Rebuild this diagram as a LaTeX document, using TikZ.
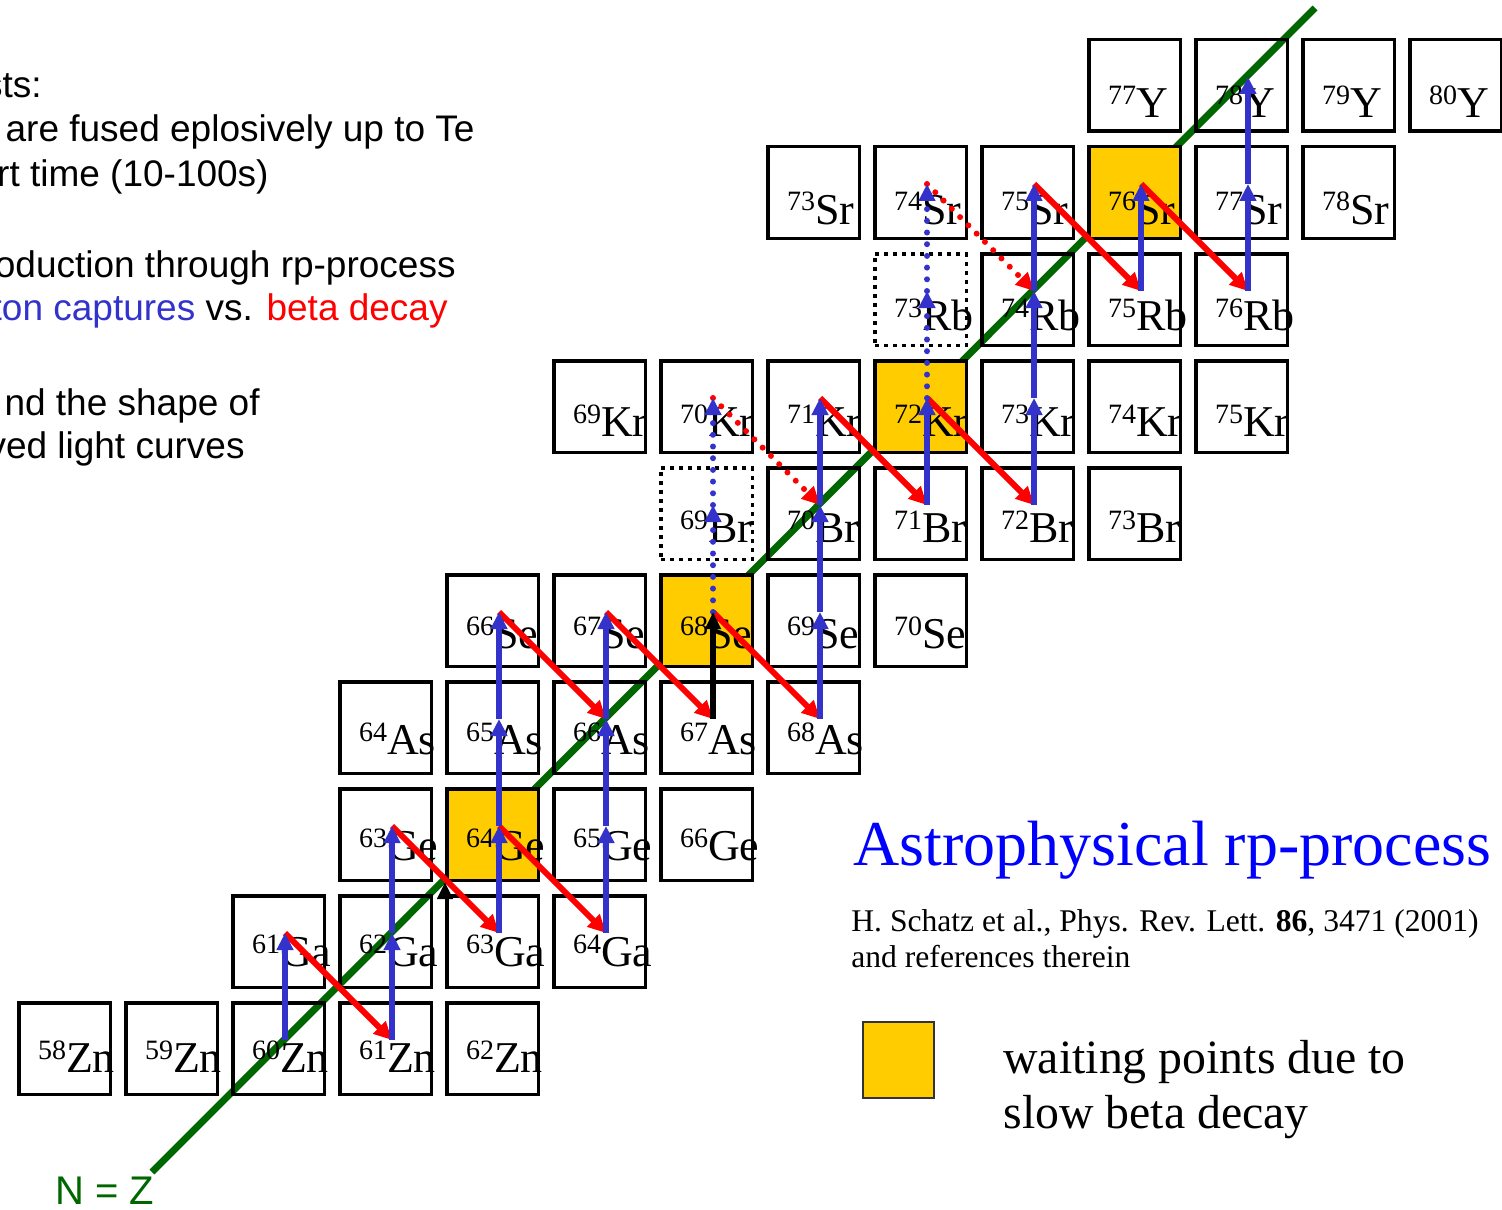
\documentclass[tikz,border=0pt]{standalone}
\usepackage{fontspec}
\setmainfont{Liberation Serif}
\newfontfamily\arialfont{Liberation Sans}
\usetikzlibrary{arrows.meta,calc}
\definecolor{capblue}{RGB}{51,51,204}
\definecolor{decred}{RGB}{255,0,0}
\definecolor{nzgreen}{RGB}{0,102,0}
\definecolor{waityellow}{RGB}{255,204,0}
\tikzset{
  nuc/.style={draw=black, line width=1.75pt, minimum size=45.75pt, inner sep=0pt,
    text width=26.5pt, align=left, text height=23.5pt, text depth=0pt,
    font=\fontsize{22}{24}\selectfont},
  boxGe64/.style={fill=waityellow},
  boxSe68/.style={fill=waityellow},
  boxKr72/.style={fill=waityellow},
  boxSr76/.style={fill=waityellow},
  boxBr69/.style={dash pattern=on 2pt off 2.5pt},
  boxRb73/.style={dash pattern=on 2pt off 2.5pt},
  pcap/.style={draw=capblue, line width=3pt, -{Triangle[length=8.5pt,width=8pt]}},
  bdec/.style={draw=decred, line width=3pt, -{Triangle[length=9pt,width=8.5pt]}},
  blk/.style={draw=black, line width=3pt, -{Triangle[length=8.5pt,width=7.5pt]}},
  dotted arrow/.style={line cap=round, dash pattern=on 0pt off 5.85pt},
  nzline/.style={draw=nzgreen, line width=3.5pt},
  slide/.style={anchor=base east, inner sep=0pt, font=\arialfont\fontsize{18.5}{22}\selectfont},
  serif/.style={anchor=base west, inner sep=0pt},
  keybox/.style={draw=black!80, line width=1pt, fill=waityellow, minimum width=35.5pt,
    minimum height=38pt, inner sep=0pt}
}
\newcommand{\iso}[2]{\raisebox{6.5pt}{\fontsize{14}{15}\selectfont #1}#2}
\begin{document}
\begin{tikzpicture}[x=0.5pt, y=-0.5pt]
  \useasboundingbox (0,0) rectangle (1502,1209);
  \clip (0,0) rectangle (1502,1209);
  % N = Z line
  \coordinate (nz-low) at (152,1172);
  \coordinate (nz-high) at (1315,8);
  \draw[nzline] (nz-low) -- (nz-high);
  \node[anchor=base west, inner sep=0pt, text=nzgreen, font=\arialfont\fontsize{20}{22}\selectfont] (nzlab) at (55,1204) {N = Z};
  % chart of nuclides, one row per element
  \foreach \el/\z/\amin/\amax [evaluate=\z as \th using 23.5+\z-30] in {Zn/30/58/62,
      Ga/31/61/64, Ge/32/63/66, As/33/64/68, Se/34/66/70, Br/35/69/73, Kr/36/69/75,
      Rb/37/73/76, Sr/38/73/78, Y/39/77/80}
    \foreach \a in {\amin,...,\amax} {
      \node[nuc, text height=\th pt, box\el\a/.try] (b-\el\a) at ({64.5+107*(\a-\z-28)},{1048.5-107*(\z-30)}) {\iso{\a}{\el}};
      \coordinate (\el\a) at ({71+107*(\a-\z-28)},{1040-107*(\z-30)});
    }
  % beta decays
  \foreach \from/\to in {Ga61/Zn61, Ge63/Ga63, Ge64/Ga64, Se66/As66, Se67/As67, Se68/As68,
      Kr71/Br71, Kr72/Br72, Sr75/Rb75, Sr76/Rb76}
    \draw[bdec] (\from) -- (\to);
  \draw[bdec, dotted arrow] (Kr70) -- (Br70);
  \draw[bdec, dotted arrow] (Sr74) -- (Rb74);
  % proton captures
  \foreach \from/\to in {Zn60/Ga61, Zn61/Ga62, Ga62/Ge63, Ga63/Ge64, Ge64/As65, As65/Se66,
      Ga64/Ge65, Ge65/As66, As66/Se67, As68/Se69, Se69/Br70, Br70/Kr71, Br71/Kr72,
      Br72/Kr73, Kr73/Rb74, Rb74/Sr75, Rb75/Sr76, Rb76/Sr77, Sr77/Y78}
    \draw[pcap] (\from) -- (\to);
  \foreach \from/\to in {Se68/Br69, Br69/Kr70, Kr72/Rb73, Rb73/Sr74}
    \draw[pcap, dotted arrow] (\from) -- (\to);
  \draw[blk] (As67) -- (Se68);
  \draw[blk] (b-Ga63.north west) -- (b-Ge64.south west);
  % slide text, cut at the left edge
  \node[slide] (l1) at (42,98) {sts:};
  \node[slide] (l2) at (475,142) {are fused eplosively up to Te};
  \node[slide] (l3) at (269,187) {rt time (10-100s)};
  \node[slide] (l4) at (456,277) {oduction through rp-process};
  \node[slide] (l5) at (448,320) {{\color{capblue}ton captures} vs. {\color{decred}beta decay}};
  \node[slide] (l6) at (260,415) {nd the shape of};
  \node[slide] (l7) at (245,458) {ved light curves};
  % title and reference
  \node[serif, text=blue, font=\fontsize{32}{36}\selectfont] (title) at (853,865) {Astrophysical rp-process};
  \node[serif, font=\fontsize{15.8}{18}\selectfont] (ref1) at (851,931) {H. Schatz et al., Phys. Rev. Lett. \textbf{86}, 3471 (2001)};
  \node[serif, font=\fontsize{15.8}{18}\selectfont] (ref2) at (851,967) {and references therein};
  % legend
  \node[keybox] (key) at (898.5,1060) {};
  \node[serif, font=\fontsize{23.9}{27}\selectfont] (wait1) at (1003,1073) {waiting points due to};
  \node[serif, font=\fontsize{23.9}{27}\selectfont] (wait2) at (1003,1128) {slow beta decay};
\end{tikzpicture}
\end{document}
